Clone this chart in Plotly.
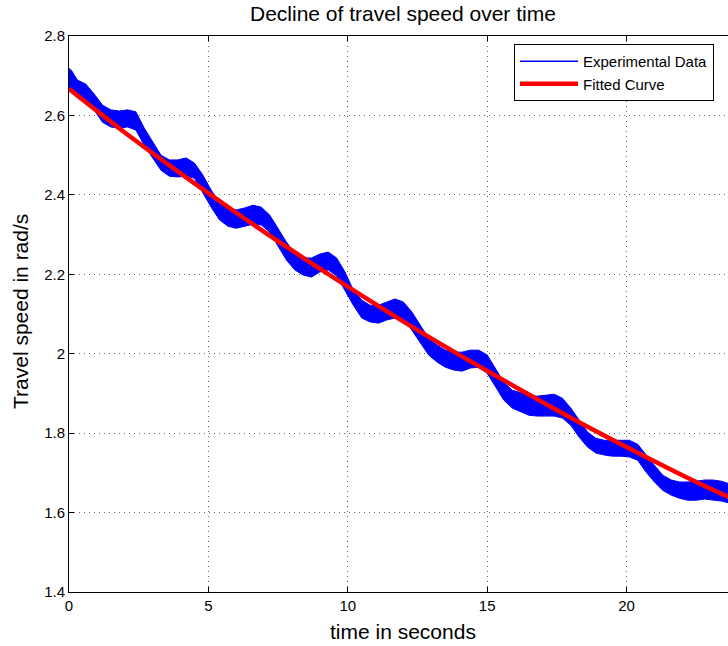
import plotly.graph_objects as go

# ---- data ----
t_exp = [0.0, 0.1, 0.3, 0.6, 0.9, 1.2, 1.5, 1.8, 2.1, 2.4, 2.7, 3.0, 3.3, 3.6, 3.9,
         4.2, 4.5, 4.8, 5.1, 5.4, 5.7, 6.0, 6.3, 6.6, 6.9, 7.2, 7.5, 7.8, 8.1, 8.4,
         8.7, 9.0, 9.3, 9.6, 9.9, 10.2, 10.5, 10.8, 11.1, 11.4, 11.7, 12.0, 12.3,
         12.6, 12.9, 13.2, 13.5, 13.8, 14.1, 14.4, 14.7, 15.0, 15.3, 15.6, 15.9,
         16.2, 16.5, 16.8, 17.1, 17.4, 17.7, 18.0, 18.3, 18.6, 18.9, 19.2, 19.5,
         19.8, 20.1, 20.4, 20.7, 21.0, 21.3, 21.6, 21.9, 22.2, 22.5, 22.8, 23.1,
         23.4, 23.7]

exp_upper = [2.719, 2.712, 2.689, 2.679, 2.654, 2.626, 2.614, 2.611, 2.614, 2.609,
             2.568, 2.533, 2.500, 2.488, 2.488, 2.493, 2.480, 2.450, 2.412, 2.379,
             2.367, 2.362, 2.367, 2.374, 2.369, 2.349, 2.316, 2.281, 2.253, 2.241,
             2.241, 2.251, 2.256, 2.241, 2.206, 2.160, 2.135, 2.122, 2.122, 2.130,
             2.138, 2.130, 2.105, 2.072, 2.039, 2.022, 2.009, 2.004, 2.004, 2.009,
             2.009, 1.997, 1.964, 1.928, 1.908, 1.901, 1.896, 1.893, 1.896, 1.898,
             1.888, 1.863, 1.833, 1.803, 1.787, 1.782, 1.782, 1.782, 1.782, 1.772,
             1.745, 1.719, 1.694, 1.682, 1.677, 1.677, 1.679, 1.682, 1.682, 1.679,
             1.672]

exp_lower = [2.664, 2.662, 2.651, 2.639, 2.614, 2.583, 2.571, 2.568, 2.571, 2.563,
             2.525, 2.493, 2.462, 2.447, 2.445, 2.447, 2.442, 2.407, 2.369, 2.337,
             2.321, 2.316, 2.321, 2.326, 2.324, 2.306, 2.271, 2.236, 2.211, 2.198,
             2.193, 2.206, 2.211, 2.196, 2.160, 2.122, 2.090, 2.080, 2.077, 2.085,
             2.090, 2.085, 2.059, 2.029, 1.997, 1.979, 1.966, 1.959, 1.956, 1.964,
             1.966, 1.951, 1.918, 1.883, 1.863, 1.853, 1.845, 1.843, 1.843, 1.843,
             1.838, 1.820, 1.790, 1.765, 1.750, 1.745, 1.742, 1.742, 1.740, 1.732,
             1.702, 1.677, 1.656, 1.644, 1.636, 1.631, 1.631, 1.634, 1.631, 1.629,
             1.624]

t_fit = [0, 2, 4, 6, 8, 10, 12, 14, 16, 18, 20, 22, 24]
v_fit = [2.667, 2.557, 2.454, 2.355, 2.260, 2.169, 2.081, 1.997, 1.917, 1.839,
         1.765, 1.694, 1.628]

x_ticks = [0, 5, 10, 15, 20]
y_ticks = [1.4, 1.6, 1.8, 2.0, 2.2, 2.4, 2.6, 2.8]
y_ticktext = ["1.4", "1.6", "1.8", "2", "2.2", "2.4", "2.6", "2.8"]

series_names = ["Experimental Data", "Fitted Curve"]
title_text = "Decline of travel speed over time"
x_label = "time in seconds"
y_label = "Travel speed in rad/s"

FONT = "Liberation Sans, Arial, Helvetica, sans-serif"

fig = go.Figure()

# experimental band (dense noisy signal drawn as its envelope)
fig.add_trace(go.Scatter(
    x=t_exp + t_exp[::-1],
    y=exp_upper + exp_lower[::-1],
    fill="toself", fillcolor="#0000ff",
    mode="lines", line=dict(color="#0000ff", width=1),
    showlegend=False, hoverinfo="skip"))

# legend entry for experimental data
fig.add_trace(go.Scatter(
    x=[None], y=[None], mode="lines", name=series_names[0],
    line=dict(color="#0000ff", width=1.5)))

fig.add_trace(go.Scatter(
    x=t_fit, y=v_fit, mode="lines", name=series_names[1],
    line=dict(color="#ff0000", width=4.5, shape="spline")))

W, H = 728, 646
L, R, T, B = 69, 0, 36, 54
pw, ph = W - L - R, H - T - B

def px_x(px):
    return (px - L) / pw

def px_y(py):
    return (H - B - py) / ph

axis_common = dict(
    showline=True, linecolor="black", linewidth=1,
    ticks="inside", ticklen=5, tickcolor="black", tickwidth=1,
    showgrid=True, gridcolor="rgba(0,0,0,0.6)", griddash="1px,4px", gridwidth=1,
    zeroline=False, tickfont=dict(family=FONT, size=15, color="black"),
)

fig.update_layout(
    width=W, height=H, autosize=False,
    margin=dict(l=L, r=R, t=T, b=B, pad=0),
    paper_bgcolor="white", plot_bgcolor="white",
    font=dict(family=FONT, color="black"),
    xaxis=dict(range=[0, 23.64], tickvals=x_ticks, mirror="ticks", **axis_common),
    yaxis=dict(range=[1.4, 2.8], tickvals=y_ticks, ticktext=y_ticktext, mirror=False,
               **axis_common),
    legend=dict(x=px_x(514), y=px_y(44), xanchor="left", yanchor="top",
                bordercolor="black", borderwidth=1, bgcolor="white",
                font=dict(family=FONT, size=15, color="black"),
                itemwidth=58, tracegroupgap=0,
                entrywidth=240, entrywidthmode="pixels"),
    annotations=[
        dict(text=title_text, xref="paper", yref="paper", x=px_x(403), y=px_y(13),
             xanchor="center", yanchor="middle", showarrow=False,
             font=dict(family=FONT, size=21, color="black")),
        dict(text=x_label, xref="paper", yref="paper", x=px_x(403), y=px_y(631),
             xanchor="center", yanchor="middle", showarrow=False,
             font=dict(family=FONT, size=21, color="black")),
        dict(text=y_label, xref="paper", yref="paper", x=px_x(20), y=px_y(312),
             xanchor="center", yanchor="middle", showarrow=False, textangle=-90,
             font=dict(family=FONT, size=21, color="black")),
    ],
)

fig.write_html("out.html")
